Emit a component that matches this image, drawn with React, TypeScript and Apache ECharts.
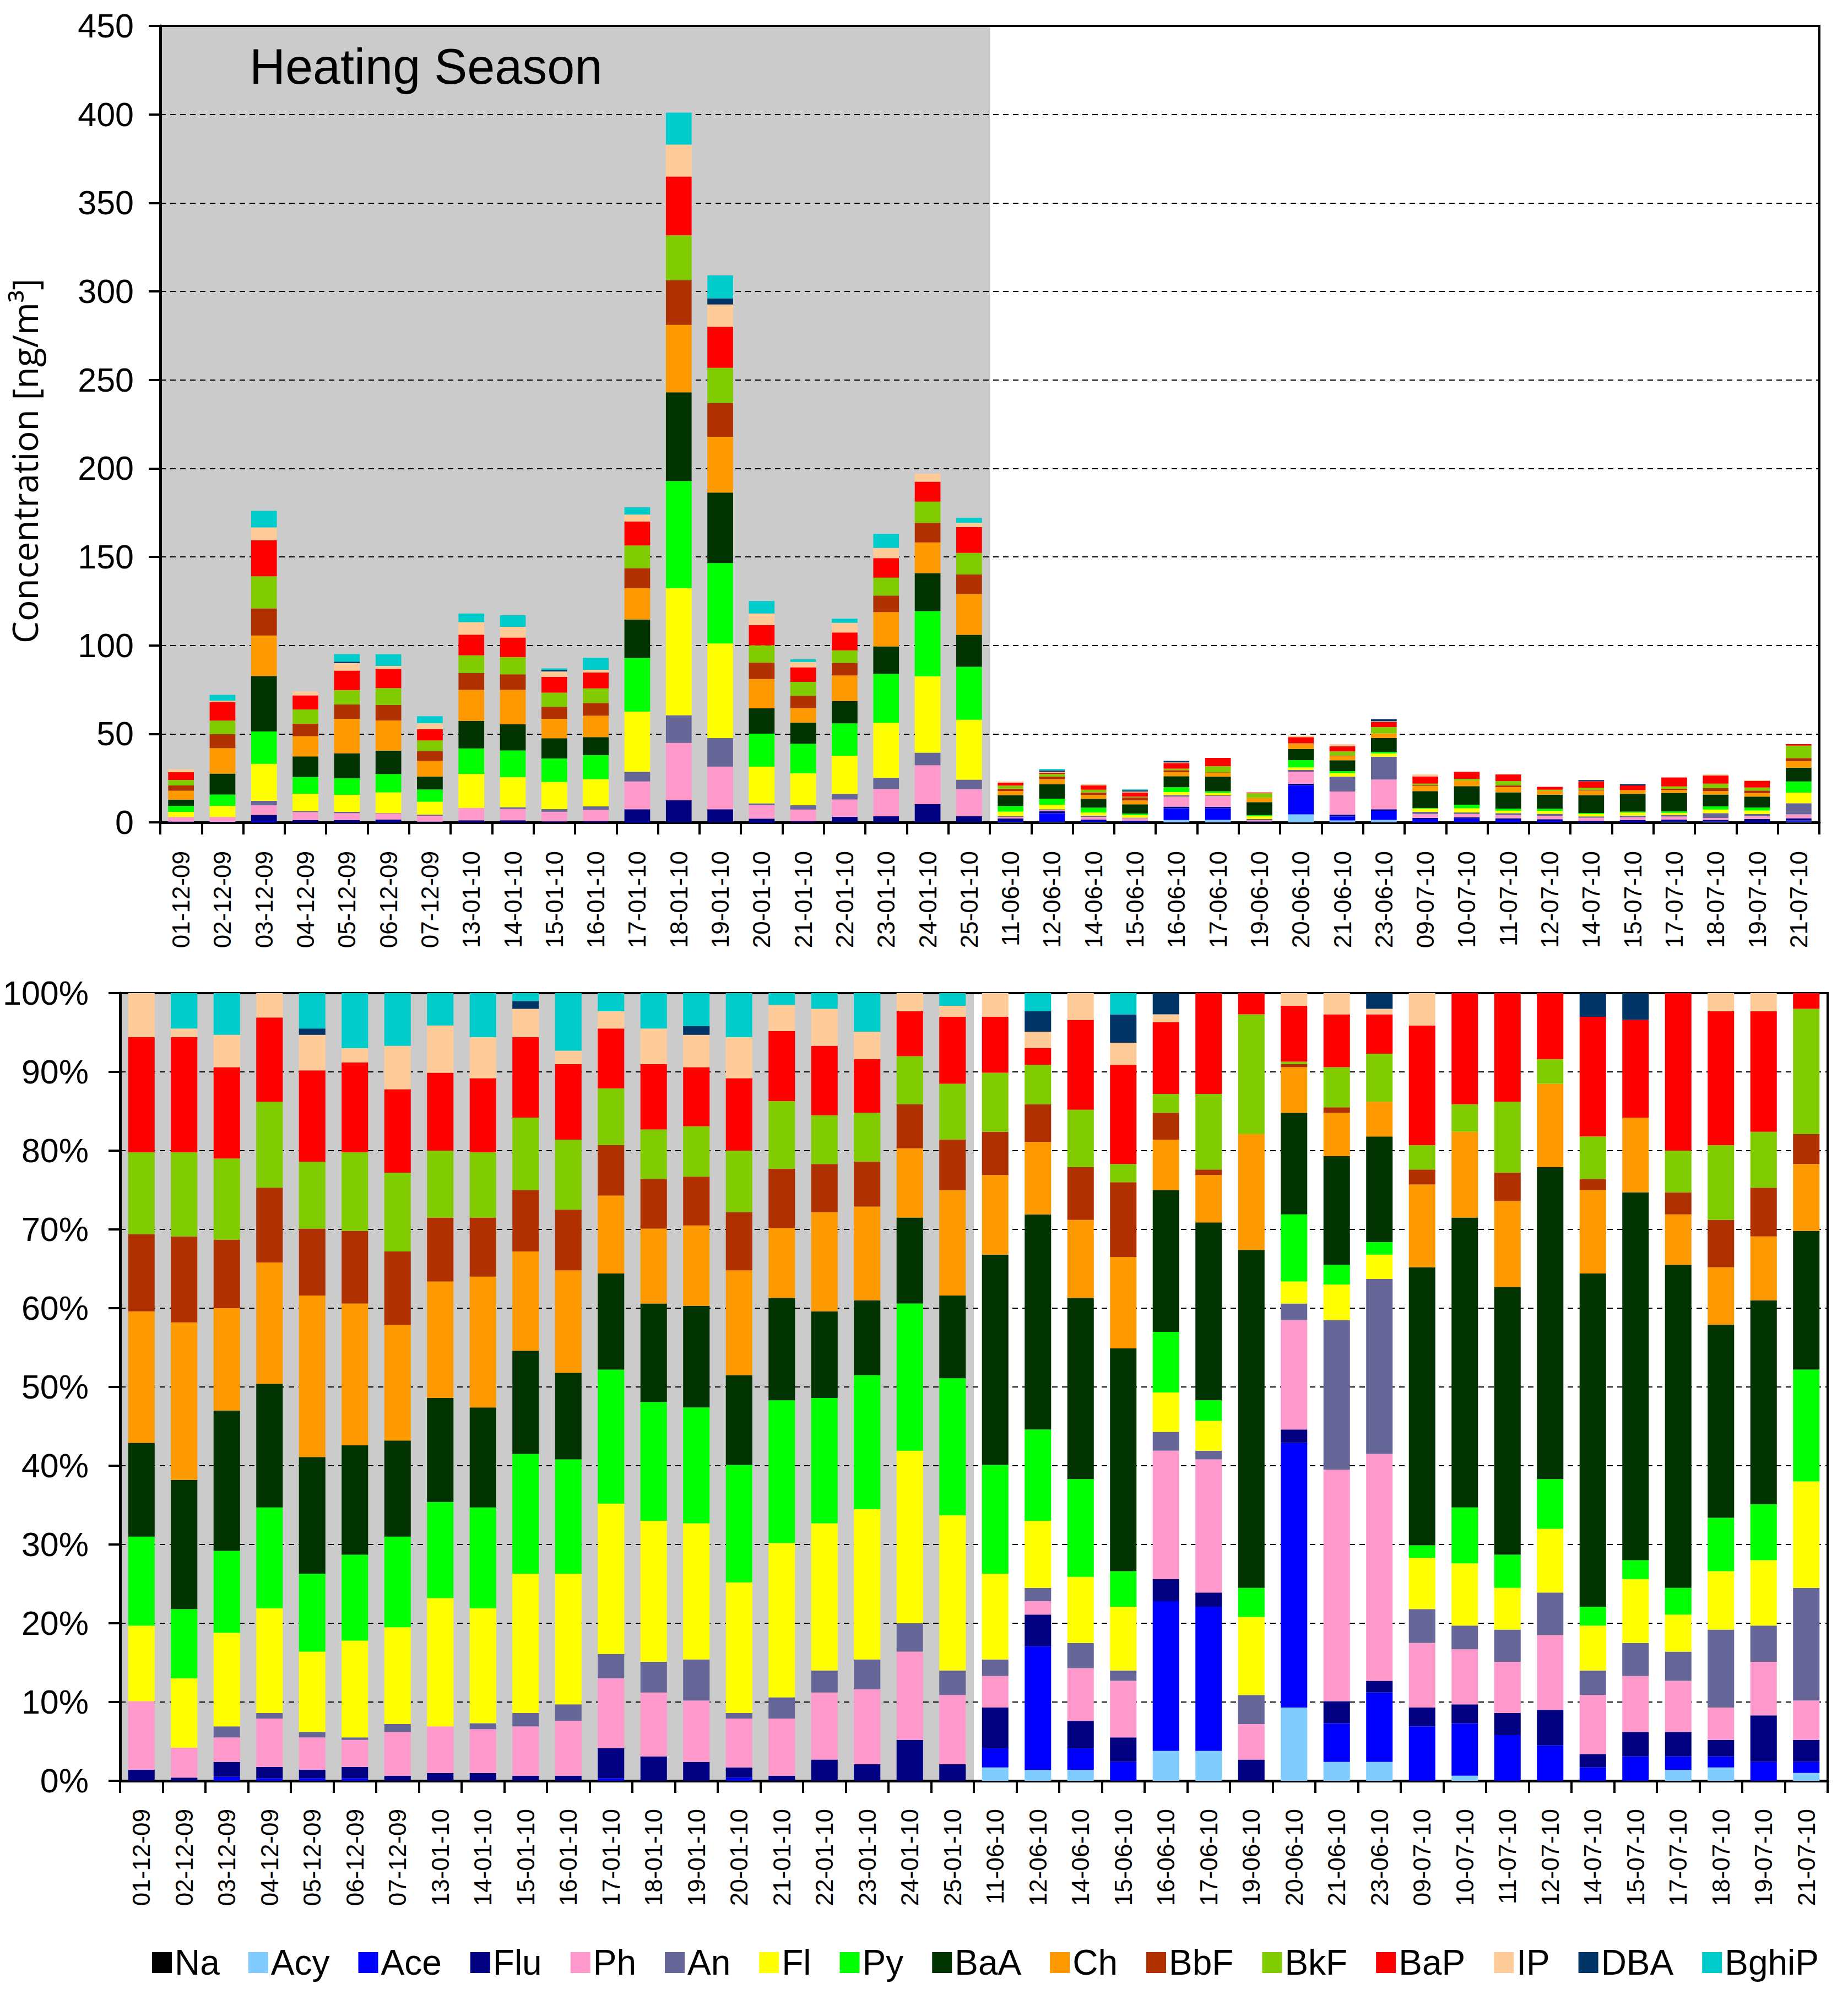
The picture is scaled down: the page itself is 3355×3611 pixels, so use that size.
import React, { useEffect, useRef } from "react";
import * as echarts from "echarts";

// ---- categories ----
const dates = [
  "01-12-09", "02-12-09", "03-12-09", "04-12-09", "05-12-09", "06-12-09", "07-12-09",
  "13-01-10", "14-01-10", "15-01-10", "16-01-10", "17-01-10", "18-01-10", "19-01-10",
  "20-01-10", "21-01-10", "22-01-10", "23-01-10", "24-01-10", "25-01-10",
  "11-06-10", "12-06-10", "14-06-10", "15-06-10", "16-06-10", "17-06-10", "19-06-10",
  "20-06-10", "21-06-10", "23-06-10", "09-07-10", "10-07-10", "11-07-10", "12-07-10",
  "14-07-10", "15-07-10", "17-07-10", "18-07-10", "19-07-10", "21-07-10",
];
const heatingFirst = 0;
const heatingLast = 19;

// total concentration per sample [ng/m3] (top chart bar heights)
const totals = [
  30, 72, 176, 74, 95, 95, 60, 118, 117, 87, 93, 178, 401, 309, 125, 92, 115, 163, 197, 172,
  23.1, 30.1, 21.7, 18.6, 34.8, 36.4, 16.9, 48.9, 44.2, 58.3, 27.1, 28.6, 27.1, 20.1, 23.9, 21.6, 25.4, 27.1, 23.9, 44.2,
];

// ---- share of each compound in each sample [%] ----
const Na = [
  0, 0, 0, 0, 0, 0, 0, 0, 0, 0, 0, 0, 0, 0, 0, 0, 0, 0, 0, 0,
  0, 0, 0, 0, 0, 0, 0, 0, 0, 0, 0, 0, 0, 0, 0, 0, 0, 0, 0, 0,
];
const Acy = [
  0, 0, 0, 0, 0, 0, 0, 0, 0, 0, 0, 0, 0, 0, 0, 0, 0, 0, 0, 0,
  1.7, 1.4, 1.4, 0, 3.8, 3.8, 0, 9.3, 2.4, 2.4, 0, 0.65, 0, 0, 0, 0, 1.4, 1.7, 0, 1.0,
];
const Ace = [
  0, 0, 0.5, 0.3, 0.3, 0.3, 0, 0, 0, 0, 0, 0.3, 0, 0, 0.4, 0, 0, 0, 0, 0,
  2.45, 15.7, 2.75, 2.4, 19.0, 18.3, 0, 33.6, 4.9, 8.8, 6.9, 6.65, 5.8, 4.5, 1.7, 3.1, 1.7, 1.4, 2.4, 1.4,
];
const Flu = [
  1.4, 0.4, 1.9, 1.45, 1.1, 1.45, 0.65, 1.0, 1.0, 0.65, 0.65, 3.85, 3.1, 2.4, 1.3, 0.65, 2.7, 2.1, 5.2, 2.1,
  5.15, 4.0, 3.45, 3.1, 2.8, 1.8, 2.7, 1.7, 2.8, 1.5, 2.4, 2.4, 2.8, 4.5, 1.7, 3.1, 3.1, 2.1, 5.9, 2.8,
];
const Ph = [
  8.7, 3.8, 3.1, 6.15, 4.1, 3.45, 5.55, 5.9, 5.55, 6.25, 6.95, 8.85, 8.1, 7.8, 6.2, 7.25, 8.5, 9.5, 11.2, 8.8,
  4.0, 1.7, 6.7, 7.2, 16.3, 16.9, 4.5, 13.9, 29.4, 28.8, 8.2, 7.0, 6.5, 9.5, 7.5, 7.1, 6.5, 4.1, 6.8, 5.0,
];
const An = [
  0, 0, 1.4, 0.7, 0.7, 0.3, 1.0, 0, 0.75, 1.7, 2.1, 3.1, 3.9, 5.2, 0.7, 2.7, 2.8, 3.8, 3.6, 3.1,
  2.1, 1.7, 3.2, 1.3, 2.4, 1.1, 3.7, 2.1, 19.0, 22.2, 4.3, 3.0, 4.1, 5.4, 3.1, 4.2, 3.7, 9.9, 4.6, 14.3,
];
const Fl = [
  9.6, 8.8, 11.9, 13.3, 10.2, 12.3, 12.3, 16.3, 14.6, 17.7, 16.6, 19.1, 17.9, 17.3, 16.6, 19.6, 18.7, 19.1, 21.9, 19.7,
  10.9, 8.5, 8.4, 8.1, 5.0, 3.8, 9.9, 2.8, 4.5, 3.1, 6.5, 7.9, 5.3, 8.1, 5.7, 8.1, 4.7, 7.4, 8.3, 13.5,
];
const Py = [
  11.3, 8.8, 10.4, 12.8, 9.9, 10.9, 11.5, 12.2, 12.8, 15.2, 14.5, 17.0, 15.1, 14.7, 14.9, 18.1, 15.9, 17.0, 18.7, 17.4,
  13.8, 11.6, 12.4, 4.5, 7.7, 2.6, 3.7, 8.5, 2.5, 1.6, 1.6, 7.1, 4.2, 6.3, 2.4, 2.4, 3.4, 6.8, 7.1, 14.2,
];
const BaA = [
  11.9, 16.4, 17.8, 15.7, 14.8, 13.9, 12.2, 13.2, 12.7, 13.1, 11.0, 12.2, 12.5, 12.9, 11.4, 13.0, 11.0, 9.5, 10.9, 10.5,
  26.7, 27.3, 23.0, 28.3, 18.0, 22.6, 42.9, 12.9, 13.8, 13.4, 35.3, 36.8, 34.0, 39.6, 42.3, 46.7, 41.0, 24.5, 25.9, 17.6,
];
const Ch = [
  16.7, 20.0, 13.0, 15.4, 20.5, 18.0, 14.7, 14.8, 16.6, 12.6, 13.0, 9.9, 9.5, 10.2, 13.3, 8.9, 12.6, 11.9, 8.8, 13.4,
  10.1, 9.2, 9.9, 11.6, 6.4, 6.0, 14.7, 5.8, 5.5, 4.4, 10.5, 10.9, 10.9, 10.6, 10.6, 9.5, 6.4, 7.3, 8.1, 8.5,
];
const BbF = [
  9.8, 10.9, 8.7, 9.5, 8.5, 9.2, 9.3, 8.1, 7.5, 7.8, 7.7, 6.4, 6.3, 6.2, 7.4, 7.5, 6.1, 5.7, 5.6, 6.4,
  5.5, 4.8, 6.7, 9.5, 3.4, 0.7, 0, 0.4, 0.7, 0, 1.9, 0, 3.6, 0, 1.4, 0, 2.8, 6.0, 6.2, 3.8,
];
const BkF = [
  10.4, 10.7, 10.3, 10.9, 8.5, 10.0, 10.0, 8.5, 8.3, 9.2, 8.9, 7.2, 6.3, 6.4, 7.8, 8.6, 6.2, 6.2, 6.1, 7.1,
  7.5, 5.0, 7.3, 2.3, 2.4, 9.6, 15.2, 0.3, 5.1, 6.1, 3.1, 3.5, 9.0, 3.1, 5.4, 0, 5.3, 9.5, 7.1, 15.9,
];
const BaP = [
  14.6, 14.6, 11.6, 10.7, 11.6, 11.4, 10.6, 9.9, 9.4, 10.2, 9.6, 7.6, 8.3, 7.5, 9.2, 8.9, 8.8, 6.8, 5.7, 8.5,
  7.1, 2.1, 11.4, 12.6, 9.1, 12.8, 2.7, 7.1, 6.7, 5.0, 15.2, 14.1, 13.8, 8.4, 15.2, 12.4, 20.0, 17.0, 15.3, 2.0,
];
const IP = [
  5.6, 1.1, 4.1, 3.1, 4.5, 1.8, 5.5, 6.0, 5.2, 3.6, 1.7, 2.2, 4.5, 4.1, 5.2, 3.3, 4.7, 3.5, 2.3, 1.4,
  3.0, 2.1, 3.4, 2.8, 1.0, 0, 0, 1.6, 2.7, 0.7, 4.1, 0, 0, 0, 0, 0, 0, 2.3, 2.3, 0,
];
const DBA = [
  0, 0, 0, 0, 0.8, 0, 0, 0, 0, 1.0, 0, 0, 0, 1.1, 0, 0, 0, 0, 0, 0,
  0, 2.6, 0, 3.6, 2.7, 0, 0, 0, 0, 2.0, 0, 0, 0, 0, 3.0, 3.4, 0, 0, 0, 0,
];
const BghiP = [
  0, 4.5, 5.3, 0, 4.5, 7.0, 6.7, 4.1, 5.6, 1.0, 7.3, 2.3, 4.5, 4.2, 5.6, 1.6, 2.0, 4.9, 0, 1.6,
  0, 2.3, 0, 2.7, 0, 0, 0, 0, 0, 0, 0, 0, 0, 0, 0, 0, 0, 0, 0, 0,
];

const compounds = ["Na", "Acy", "Ace", "Flu", "Ph", "An", "Fl", "Py", "BaA", "Ch", "BbF", "BkF", "BaP", "IP", "DBA", "BghiP"];
const shares = [Na, Acy, Ace, Flu, Ph, An, Fl, Py, BaA, Ch, BbF, BkF, BaP, IP, DBA, BghiP];
const colors = [
  "#000000", "#80ccff", "#0000ff", "#000080", "#ff99cc", "#666699", "#ffff00", "#00ff00",
  "#003300", "#ff9900", "#b03000", "#80cc00", "#ff0000", "#ffcc99", "#003366", "#00cccc",
];

const yTopTicks = { min: 0, max: 450, interval: 50 };
const yBotTicks = { min: 0, max: 100, interval: 10 };

const LBL = "'Liberation Sans', Arial, sans-serif";

function bandSeries(gridIdx: number) {
  return {
    type: "custom",
    name: "heating-band-" + gridIdx,
    xAxisIndex: gridIdx,
    yAxisIndex: gridIdx,
    silent: true,
    z: -1,
    data: [[heatingFirst, heatingLast, 0]],
    encode: { x: [0, 1], y: 2 },
    renderItem: (params: any, api: any) => {
      const p0 = api.coord([api.value(0), 0]);
      const p1 = api.coord([api.value(1), 0]);
      const bw = api.size([1, 0])[0];
      const cs = params.coordSys;
      return {
        type: "rect",
        shape: { x: p0[0] - bw / 2, y: cs.y, width: p1[0] - p0[0] + bw, height: cs.height },
        style: { fill: "#cbcbcb" },
      };
    },
  };
}

function xAxisFor(gridIdx: number, margin: number) {
  return {
    type: "category",
    gridIndex: gridIdx,
    data: dates,
    axisLine: { show: true, lineStyle: { color: "#000", width: 5 } },
    axisTick: { show: true, interval: 0, length: 22, lineStyle: { color: "#000", width: 4 } },
    axisLabel: { interval: 0, rotate: 90, fontSize: 44, margin, color: "#000", fontFamily: LBL },
    splitLine: { show: false },
  };
}

export default function App() {
  const ref = useRef<HTMLDivElement>(null);
  useEffect(() => {
    if (!ref.current) return;
    const chart = echarts.init(ref.current, undefined, { renderer: "svg" });

    const topSeries = compounds.map((name, k) => ({
      type: "bar",
      name,
      stack: "abs",
      xAxisIndex: 0,
      yAxisIndex: 0,
      barCategoryGap: "38%",
      itemStyle: { color: colors[k] },
      data: shares[k].map((p, i) => Math.round(p * totals[i]) / 100),
    }));
    const botSeries = compounds.map((name, k) => ({
      type: "bar",
      name,
      stack: "pct",
      xAxisIndex: 1,
      yAxisIndex: 1,
      barCategoryGap: "38%",
      itemStyle: { color: colors[k] },
      data: shares[k],
    }));

    const splitLine = { show: true, lineStyle: { color: "#000", width: 2, type: [10, 8] } };

    chart.setOption({
      animation: false,
      backgroundColor: "#ffffff",
      grid: [
        { left: 291, top: 47, width: 3012, height: 1446, show: true, borderColor: "#000", borderWidth: 4, backgroundColor: "transparent" },
        { left: 218, top: 1803, width: 3100, height: 1430, show: true, borderColor: "#000", borderWidth: 4, backgroundColor: "transparent" },
      ],
      xAxis: [xAxisFor(0, 52), xAxisFor(1, 51)],
      yAxis: [
        {
          type: "value",
          gridIndex: 0,
          ...yTopTicks,
          name: "Concentration [ng/m³]",
          nameLocation: "middle",
          nameRotate: 90,
          nameGap: 215,
          nameTextStyle: { fontSize: 64, fontFamily: "'Open Sans', sans-serif", color: "#000", padding: [0, 134, 0, 0] },
          axisLine: { show: true, lineStyle: { color: "#000", width: 5 } },
          axisTick: { show: true, length: 21, lineStyle: { color: "#000", width: 4 } },
          axisLabel: { fontSize: 61, margin: 48, color: "#000", fontFamily: LBL },
          splitLine,
        },
        {
          type: "value",
          gridIndex: 1,
          ...yBotTicks,
          axisLine: { show: true, lineStyle: { color: "#000", width: 5 } },
          axisTick: { show: true, length: 21, lineStyle: { color: "#000", width: 4 } },
          axisLabel: { fontSize: 61, margin: 57, color: "#000", fontFamily: LBL, formatter: "{value}%" },
          splitLine,
        },
      ],
      legend: {
        data: compounds,
        icon: "rect",
        itemWidth: 36,
        itemHeight: 38,
        itemGap: 52,
        left: 271,
        top: 3526,
        selectedMode: false,
        textStyle: { fontSize: 64, fontFamily: LBL, color: "#000" },
      },
      graphic: [
        {
          type: "text",
          left: 453,
          top: 76,
          style: { text: "Heating Season", font: "90px 'Liberation Sans', Arial, sans-serif", fill: "#000" },
        },
      ],
      series: [bandSeries(0), bandSeries(1), ...topSeries, ...botSeries],
    });
    return () => chart.dispose();
  }, []);

  return (
    <div
      ref={ref}
      style={{ position: "absolute", left: 0, top: 0, width: 3355, height: 3611, background: "#fff" }}
    />
  );
}
